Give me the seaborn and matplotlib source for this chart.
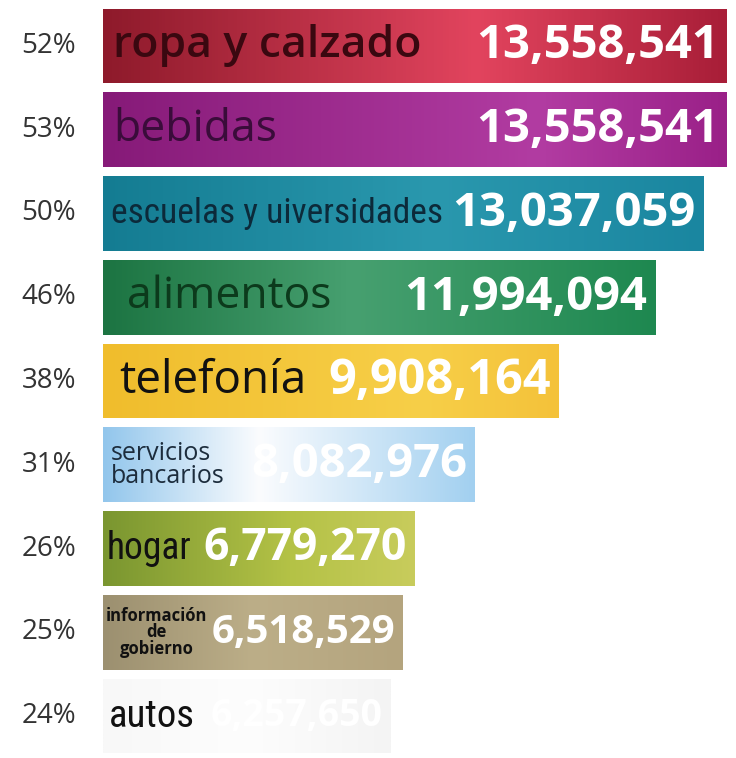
import numpy as np
import pandas as pd
import seaborn as sns
import matplotlib.pyplot as plt
from matplotlib.colors import to_rgb
import matplotlib.transforms as mtransforms

# datos
categorias = ["ropa y calzado", "bebidas", "escuelas y uiversidades", "alimentos",
              "telefonía", "servicios\nbancarios", "hogar",
              "información\nde\ngobierno", "autos"]
porcentajes = [52, 53, 50, 46, 38, 31, 26, 25, 24]
valores = [13558541, 13558541, 13037059, 11994094, 9908164, 8082976,
           6779270, 6518529, 6257650]

# colores del degradado (izquierda, centro, derecha)
col_izq = ["#8e1a2b", "#861a78", "#147c92", "#1c7442", "#f0bd2c",
           "#92c6ec", "#7a9630", "#9c9070", "#f8f8f8"]
col_mid = ["#e2445e", "#b23ca2", "#2a98ae", "#47a070", "#f7cf48",
           "#fbfcfe", "#b4c246", "#bcae88", "#fdfdfd"]
col_der = ["#a81e38", "#9a2088", "#1a86a0", "#1e8850", "#f4c23a",
           "#a2d0f0", "#c8cc5c", "#b4a47e", "#f4f4f4"]
pos_mid = [0.6, 0.7, 0.55, 0.45, 0.7, 0.42, 0.6, 0.5, 0.5]

col_texto = ["#3a0810", "#3a0c3a", "#0c2a3a", "#0c3a1c", "#111111",
             "#1c2c3c", "#111111", "#111111", "#111111"]
tam_texto = [32, 32, 25.5, 32, 33, 18, 27, 12, 28]
peso_texto = ["semibold", "normal", "normal", "normal", "normal",
              "normal", "normal", "bold", "normal"]
angosta = [False, False, True, False, False, False, True, False, True]
sangria = [10, 10, 8, 24, 16, 8, 4, 3, 6]
tam_valor = [34, 34, 34, 34, 35, 34, 32, 29, 27]

sns.set_style("white")
plt.rcParams['font.family'] = ['Open Sans', 'DejaVu Sans']

fig = plt.figure(figsize=(7.36, 7.58), dpi=100)
ax = fig.add_axes([103 / 736, 0, 633 / 736, 1 - 4 / 758])

df = pd.DataFrame({"cat": categorias, "val": valores})
sns.barplot(data=df, x="val", y="cat", orient="h", ax=ax, width=0.89,
            color="#cccccc", edgecolor="none")

# degradado dentro de cada barra
for i, p in enumerate(ax.patches):
    a, b, c = to_rgb(col_izq[i]), to_rgb(col_mid[i]), to_rgb(col_der[i])
    t = np.linspace(0, 1, 200)
    grad = np.zeros((1, 200, 3))
    for k in range(3):
        grad[0, :, k] = np.interp(t, [0, pos_mid[i], 1], [a[k], b[k], c[k]])
    x0, y0 = p.get_x(), p.get_y()
    im = ax.imshow(grad, extent=[x0, x0 + p.get_width(), y0 + p.get_height(), y0],
                   aspect="auto", zorder=2)
    im.set_clip_path(p)

ax.set_xlim(0, 13558541 * 633 / 624)
ax.set_ylim(len(categorias) - 0.5, -0.5)

trans = mtransforms.blended_transform_factory(fig.transFigure, ax.transData)
for i, (cat, pc, v) in enumerate(zip(categorias, porcentajes, valores)):
    ax.text(0.066, i, f"{pc}%", transform=trans, ha="center", va="center",
            fontsize=20, color="#333333")
    fam = ['Roboto Condensed', 'Roboto'] if angosta[i] else ['Open Sans', 'DejaVu Sans']
    ax.annotate(cat, xy=(0, i), xytext=(sangria[i], 0), textcoords="offset pixels",
                ha="left", va="center", fontsize=tam_texto[i], color=col_texto[i],
                fontweight=peso_texto[i], family=fam, linespacing=0.9,
                ma="center" if i == 7 else "left", zorder=3)
    ax.annotate(f"{v:,}", xy=(v, i), xytext=(-8, 0), textcoords="offset pixels",
                ha="right", va="center", fontsize=tam_valor[i], fontweight="bold",
                color="white", zorder=3)

ax.set_xlabel("")
ax.set_ylabel("")
ax.set_xticks([])
ax.set_yticks([])
sns.despine(ax=ax, left=True, bottom=True)

fig.savefig("out.png", dpi=100)
